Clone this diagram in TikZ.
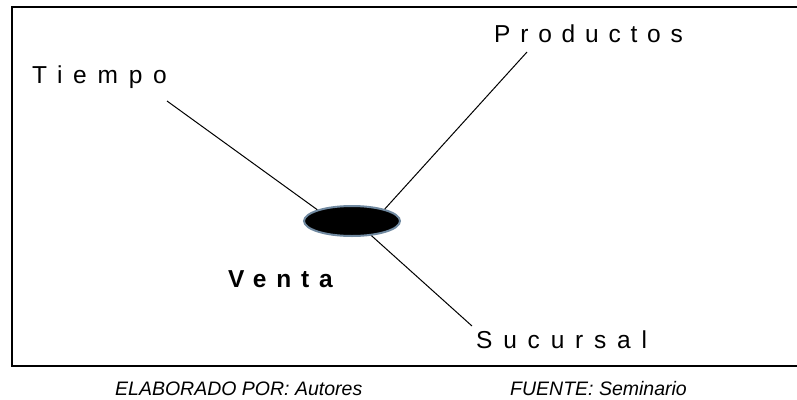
\documentclass[tikz,border=0pt]{standalone}
\usepackage{fontspec}
\setmainfont{Liberation Sans}
\usetikzlibrary{shapes.geometric}

\begin{document}
\begin{tikzpicture}[
    x=1pt, y=-1pt,
    dimtext/.style={font=\fontsize{24.5}{28}\selectfont\addfontfeature{LetterSpace=#1}, inner sep=0pt, anchor=base west},
    dimtext/.default=40,
    facttext/.style={font=\bfseries\fontsize{24.5}{28}\selectfont\addfontfeature{LetterSpace=40}, inner sep=0pt, anchor=base west},
    fact/.style={ellipse, fill=black, draw={rgb,255:red,112;green,137;blue,160}, line width=2pt, minimum width=96pt, minimum height=30pt, inner sep=0pt},
    caption/.style={font=\itshape\fontsize{19.5}{23}\selectfont, inner sep=0pt, anchor=base west},
    link/.style={line width=1pt, black}
]
\useasboundingbox (0,0) rectangle (797,399);

% Marco
\draw[line width=1.3pt] (12,7) rectangle (810,366);

% Hecho central
\node[fact] (venta) at (352,221) {};
\node[facttext] (venta_label) at (228,287) {Venta};

% Dimensiones
\node[dimtext=44] (tiempo) at (32,83) {Tiempo};
\node[dimtext] (productos) at (494,42) {Productos};
\node[dimtext=44] (sucursal) at (476,348) {Sucursal};

\coordinate (tiempo_end) at (167,101);
\coordinate (productos_end) at (527,52);
\coordinate (sucursal_end) at (472,326);

% Conexiones
\draw[link] (tiempo_end) -- (venta.162);
\draw[link] (venta.20) -- (productos_end);
\draw[link] (venta.-37) -- (sucursal_end);

% Pie
\node[caption] (autores) at (115,395) {ELABORADO POR: Autores};
\node[caption] (fuente) at (510,395) {FUENTE: Seminario};

\end{tikzpicture}
\end{document}
